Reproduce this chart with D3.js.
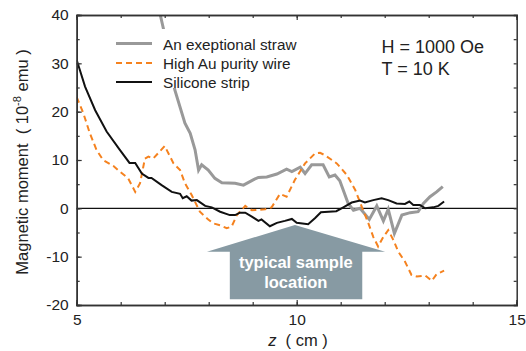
<html>
<head>
<meta charset="utf-8">
<script src="https://d3js.org/d3.v7.min.js"></script>
<style>
body { margin: 0; background: #fff; }
text { font-family: Arial, "Liberation Sans", sans-serif; fill: #222; }
</style>
</head>
<body>
<svg width="526" height="351"></svg>
<script>
// silicone strip
var zSi = [5.0, 5.19, 5.42, 5.68, 5.98, 6.2, 6.33, 6.48, 6.63, 6.7, 6.93, 7.16, 7.35, 7.41, 7.5, 7.61, 7.73, 7.92, 8.07, 8.26, 8.48, 8.6, 8.71, 8.83, 8.98, 9.13, 9.2, 9.39, 9.55, 9.73, 9.89, 10.0, 10.26, 10.42, 10.55, 10.9, 11.06, 11.25, 11.44, 11.55, 11.74, 11.93, 12.08, 12.27, 12.46, 12.56, 12.65, 12.8, 12.92, 13.1, 13.22, 13.35];
var mSi = [30.7, 25.2, 20.3, 15.9, 12.1, 9.4, 9.4, 7.2, 6.3, 6.3, 4.8, 3.4, 3.0, 2.1, 2.5, 1.6, 1.7, 0.5, 0.2, -0.7, -1.4, -1.4, -0.9, -0.9, -1.7, -2.6, -2.3, -3.7, -3.0, -2.6, -2.2, -3.0, -3.3, -2.0, -0.8, -0.6, 0.2, 1.2, 1.6, 1.2, 1.7, 2.1, 1.7, 1.0, 0.9, 1.4, 0.7, 0.7, 0.0, 0.2, 0.5, 1.4];

// high Au purity wire
var zAu = [5.0, 5.15, 5.3, 5.45, 5.6, 5.83, 5.98, 6.17, 6.33, 6.44, 6.55, 6.63, 6.74, 7.0, 7.2, 7.35, 7.46, 7.61, 7.8, 7.99, 8.1, 8.26, 8.41, 8.52, 8.64, 8.83, 8.98, 9.28, 9.43, 9.62, 9.77, 9.96, 10.19, 10.42, 10.53, 10.64, 10.91, 11.14, 11.33, 11.48, 11.63, 11.74, 11.85, 11.97, 12.08, 12.2, 12.31, 12.46, 12.61, 12.73, 12.92, 13.07, 13.18, 13.35];
var mAu = [23.0, 19.7, 15.5, 12.1, 10.0, 8.8, 7.6, 6.2, 3.4, 5.2, 10.3, 10.7, 10.3, 12.9, 9.3, 7.9, 5.2, 2.8, -0.7, -2.3, -3.1, -3.5, -4.1, -3.8, -1.4, 0.5, -0.4, -0.2, 0.2, 3.0, 2.4, 5.9, 9.3, 11.4, 11.5, 11.0, 9.3, 6.9, 3.8, 0.3, -3.1, -5.9, -7.9, -5.9, -4.5, -6.6, -9.0, -11.0, -13.8, -14.1, -13.9, -15.0, -13.6, -12.9];

// exceptional straw
var zStraw = [6.85, 6.97, 7.23, 7.46, 7.58, 7.69, 7.77, 7.84, 7.99, 8.14, 8.3, 8.6, 8.79, 9.01, 9.13, 9.32, 9.55, 9.77, 9.89, 10.08, 10.19, 10.34, 10.6, 10.74, 10.87, 10.98, 11.17, 11.29, 11.44, 11.65, 11.82, 11.97, 12.08, 12.22, 12.39, 12.58, 12.76, 12.88, 13.03, 13.18, 13.32];
var mStraw = [42, 37.2, 24.5, 17.6, 15.5, 12.1, 7.9, 9.0, 7.9, 6.2, 5.3, 5.2, 4.8, 5.9, 6.4, 6.5, 7.1, 8.1, 7.6, 8.5, 7.2, 9.0, 9.0, 6.5, 6.9, 5.7, 1.0, -0.4, 0.0, -2.3, 0.5, -2.6, -0.2, -5.2, -1.4, -0.9, -0.7, 1.0, 2.4, 3.4, 4.5];

var seriesNames = ["An exeptional straw", "High Au purity wire", "Silicone strip"];
var xTickLabels = [5, 10, 15];
var yTickLabels = [-20, -10, 0, 10, 20, 30, 40];

// arrow outline in data units (z, moment)
var arrowZ = [7.96, 9.96, 12.01, 11.49, 11.49, 8.48, 8.48];
var arrowM = [-8.97, -3.45, -8.97, -8.97, -18.8, -18.8, -8.97];

var L = 76.7, R = 516.7, T = 15, B = 305;
var x = d3.scaleLinear().domain([5, 15]).range([L, R]);
var y = d3.scaleLinear().domain([-20, 40]).range([B, T]);
var fmt = function (d) { return String(d); };

var svg = d3.select("svg");

svg.append("clipPath").attr("id", "clip")
  .append("rect").attr("x", L).attr("y", T).attr("width", R - L).attr("height", B - T);

// arrow
var arrowPts = arrowZ.map(function (d, i) { return [x(d), y(arrowM[i])]; });
svg.append("polygon")
  .attr("points", arrowPts.map(function (p) { return p.join(","); }).join(" "))
  .attr("fill", "#879aa3");
svg.append("text").attr("x", x(9.98)).attr("y", 267.5)
  .attr("text-anchor", "middle").style("font-size", "16.5px").style("font-weight", "bold")
  .style("fill", "#fff").text("typical sample");
svg.append("text").attr("x", x(9.98)).attr("y", 287.5)
  .attr("text-anchor", "middle").style("font-size", "16.5px").style("font-weight", "bold")
  .style("fill", "#fff").text("location");

// zero line
svg.append("line").attr("x1", x(5)).attr("x2", x(15)).attr("y1", y(0)).attr("y2", y(0))
  .attr("stroke", "#111").attr("stroke-width", 1.2);

var line = d3.line().x(function (d) { return x(d[0]); }).y(function (d) { return y(d[1]); });
var g = svg.append("g").attr("clip-path", "url(#clip)");

g.append("path").datum(zStraw.map(function (d, i) { return [d, mStraw[i]]; }))
  .attr("d", line).attr("fill", "none").attr("stroke", "#999").attr("stroke-width", 3);
g.append("path").datum(zAu.map(function (d, i) { return [d, mAu[i]]; }))
  .attr("d", line).attr("fill", "none").attr("stroke", "#f5821f").attr("stroke-width", 2)
  .attr("stroke-dasharray", "6,4");
g.append("path").datum(zSi.map(function (d, i) { return [d, mSi[i]]; }))
  .attr("d", line).attr("fill", "none").attr("stroke", "#111").attr("stroke-width", 2);

// axes
function styleAxis(sel) {
  sel.select(".domain").attr("stroke", "#333").attr("stroke-width", 1.5);
  sel.selectAll(".tick line").attr("stroke", "#333").attr("stroke-width", 1.2);
  sel.selectAll("text").style("font-size", "15.5px").style("font-family", "Arial, 'Liberation Sans', sans-serif").attr("fill", "#222");
}
// minor ticks
svg.append("g").attr("transform", "translate(0," + B + ")")
  .call(d3.axisBottom(x).tickValues(d3.range(5, 16, 1)).tickSize(-3).tickFormat("")).call(styleAxis);
svg.append("g").attr("transform", "translate(0," + B + ")")
  .call(d3.axisBottom(x).tickValues(xTickLabels).tickSize(-5).tickPadding(9).tickFormat(fmt)).call(styleAxis);
svg.append("g").attr("transform", "translate(0," + T + ")")
  .call(d3.axisTop(x).tickValues(d3.range(5, 16, 1)).tickSize(-3).tickFormat("")).call(styleAxis);
svg.append("g").attr("transform", "translate(0," + T + ")")
  .call(d3.axisTop(x).tickValues(xTickLabels).tickSize(-5).tickFormat("")).call(styleAxis);
svg.append("g").attr("transform", "translate(" + L + ",0)")
  .call(d3.axisLeft(y).tickValues(d3.range(-20, 41, 5)).tickSize(-3).tickFormat("")).call(styleAxis);
svg.append("g").attr("transform", "translate(" + L + ",0)")
  .call(d3.axisLeft(y).tickValues(yTickLabels).tickSize(-5).tickPadding(8).tickFormat(fmt)).call(styleAxis);
svg.append("g").attr("transform", "translate(" + R + ",0)")
  .call(d3.axisRight(y).tickValues(d3.range(-20, 41, 5)).tickSize(-3).tickFormat("")).call(styleAxis);

// legend
svg.append("rect").attr("x", 108).attr("y", 29).attr("width", 192).attr("height", 59).attr("fill", "#fff");
var legStroke = ["#999", "#f5821f", "#111"];
var legWidth = [3, 2, 2];
var legDash = [null, "6,4", null];
var legY = [43.5, 63, 82];
seriesNames.forEach(function (name, i) {
  svg.append("line").attr("x1", 116).attr("x2", 152).attr("y1", legY[i]).attr("y2", legY[i])
    .attr("stroke", legStroke[i]).attr("stroke-width", legWidth[i]).attr("stroke-dasharray", legDash[i]);
  svg.append("text").attr("x", 163).attr("y", legY[i] + 6).style("font-size", "15.3px").text(name);
});

// conditions
svg.append("text").attr("x", 381.5).attr("y", 53).style("font-size", "18px").text("H = 1000 Oe");
svg.append("text").attr("x", 381.5).attr("y", 74.5).style("font-size", "18px").text("T = 10 K");

// axis titles
var xt = svg.append("text").attr("x", 298).attr("y", 346).attr("text-anchor", "middle").style("font-size", "16.5px");
xt.append("tspan").style("font-style", "italic").text("z");
xt.append("tspan").text("  ( cm )").attr("xml:space", "preserve");

var yt = svg.append("text").attr("transform", "translate(28,162) rotate(-90)")
  .attr("text-anchor", "middle").style("font-size", "16.5px").attr("xml:space", "preserve");
yt.append("tspan").text("Magnetic moment  ( 10");
yt.append("tspan").attr("dy", -7).style("font-size", "11px").text("-8");
yt.append("tspan").attr("dy", 7).text(" emu )");
</script>
</body>
</html>
